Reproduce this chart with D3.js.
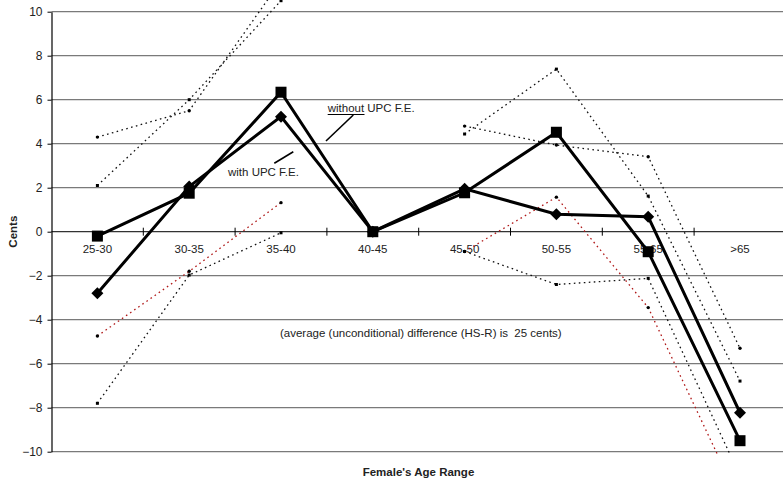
<!DOCTYPE html>
<html>
<head>
<meta charset="utf-8">
<script src="https://cdn.jsdelivr.net/npm/d3@7"></script>
<style>
  html, body { margin: 0; padding: 0; background: #fff; }
  svg { display: block; font-family: "Liberation Sans", Arial, sans-serif; }
</style>
</head>
<body>
<svg id="chart" width="783" height="478"></svg>
<script>
// Age ranges on the category axis
const categories = ["25-30", "30-35", "35-40", "40-45", "45-50", "50-55", "55-65", ">65"];

// Point estimates (cents); 40-45 is the omitted group
const withUpcFE    = [-2.8, 2.05, 5.23, 0, 1.95, 0.79, 0.68, -8.23];
const withoutUpcFE = [-0.2, 1.75, 6.34, 0, 1.77, 4.52, -0.91, -9.5];

// Confidence bounds (dotted); no bound for the omitted group
const boundUpperA = [4.3, 5.5, 11.4, null, 4.8, 3.94, 3.41, -5.3];
const boundUpperB = [2.1, 6.0, 10.5, null, 4.44, 7.39, 1.62, -6.79];
const boundLowerRed = [-4.74, -1.8, 1.32, null, -0.9, 1.57, -3.45, -12.3];
const boundLowerD = [-7.8, -1.97, -0.05, null, -0.9, -2.4, -2.12, -11.1];

const yTicks = [-10, -8, -6, -4, -2, 0, 2, 4, 6, 8, 10];

const svg = d3.select("#chart");
const W = 783, H = 478;
const left = 51.5, band = 91.8;

const x = d3.scaleBand().domain(categories).range([left, left + band * categories.length]).padding(0);
const cx = c => x(c) + x.bandwidth() / 2;
const y = d3.scaleLinear().domain([-10, 10]).range([451.7, 11.7]);

// Horizontal gridlines
svg.append("g").selectAll("line").data(yTicks).join("line")
  .attr("x1", left).attr("x2", W)
  .attr("y1", d => y(d)).attr("y2", d => y(d))
  .attr("stroke", d => d === 0 ? "#333" : "#7a7a7a")
  .attr("stroke-width", 1.2);

// Value axis
const yAxis = svg.append("g")
  .attr("transform", `translate(${left},0)`)
  .call(d3.axisLeft(y).tickValues(yTicks).tickSize(4).tickSizeOuter(0).tickPadding(5));
yAxis.select(".domain").attr("stroke", "#000").attr("stroke-width", 1.2);
yAxis.selectAll(".tick line").attr("stroke", "#000");
yAxis.selectAll("text").attr("font-size", 12).attr("fill", "#222")
  .attr("font-family", "Liberation Sans, Arial, sans-serif");

// Category axis crossing at zero: tick marks at band boundaries
const boundaries = d3.range(1, categories.length + 1).map(i => left + i * band);
svg.append("g").selectAll("line").data(boundaries).join("line")
  .attr("x1", d => d).attr("x2", d => d)
  .attr("y1", y(0) - 4).attr("y2", y(0) + 4)
  .attr("stroke", "#000").attr("stroke-width", 1);

svg.append("g").selectAll("text").data(categories).join("text")
  .attr("x", d => cx(d)).attr("y", y(0) + 21.5)
  .attr("text-anchor", "middle")
  .attr("font-size", 11.5).attr("fill", "#222")
  .text(d => d);

// Clip region for series
svg.append("clipPath").attr("id", "plotClip")
  .append("rect").attr("x", left).attr("y", 0)
  .attr("width", W - left).attr("height", y(-10) + 3);

const plot = svg.append("g").attr("clip-path", "url(#plotClip)");

const line = d3.line()
  .defined(d => d.v !== null)
  .x(d => cx(d.c))
  .y(d => y(d.v));

const toPts = arr => arr.map((v, i) => ({ c: categories[i], v }));

// Dotted confidence bounds
const bounds = [
  { data: boundUpperA, color: "#111", marker: "circle" },
  { data: boundUpperB, color: "#111", marker: "square" },
  { data: boundLowerD, color: "#111", marker: "square" },
  { data: boundLowerRed, color: "#b01818", marker: "circle" }
];

bounds.forEach(b => {
  const pts = toPts(b.data);
  plot.append("path")
    .attr("d", line(pts))
    .attr("fill", "none")
    .attr("stroke", b.color)
    .attr("stroke-width", 1.3)
    .attr("stroke-dasharray", "1.6,3.4");
  const g = plot.append("g");
  const shown = pts.filter(p => p.v !== null);
  if (b.marker === "circle") {
    g.selectAll("circle").data(shown).join("circle")
      .attr("cx", d => cx(d.c)).attr("cy", d => y(d.v)).attr("r", 1.7)
      .attr("fill", "#000");
  } else {
    g.selectAll("rect").data(shown).join("rect")
      .attr("x", d => cx(d.c) - 1.5).attr("y", d => y(d.v) - 1.5)
      .attr("width", 3).attr("height", 3)
      .attr("fill", "#000");
  }
});

// Point-estimate series
const solid = [
  { data: withoutUpcFE, marker: "square" },
  { data: withUpcFE, marker: "diamond" }
];

solid.forEach(s => {
  plot.append("path")
    .attr("d", line(toPts(s.data)))
    .attr("fill", "none")
    .attr("stroke", "#000")
    .attr("stroke-width", 3)
    .attr("stroke-linejoin", "miter");
});

solid.forEach(s => {
  const pts = toPts(s.data);
  const g = plot.append("g");
  if (s.marker === "square") {
    g.selectAll("rect").data(pts).join("rect")
      .attr("x", d => cx(d.c) - 5.5).attr("y", d => y(d.v) - 5.5)
      .attr("width", 11).attr("height", 11)
      .attr("fill", "#000");
  } else {
    g.selectAll("path").data(pts).join("path")
      .attr("d", d => {
        const px = cx(d.c), py = y(d.v), r = 6;
        return `M${px},${py - r}L${px + r},${py}L${px},${py + r}L${px - r},${py}Z`;
      })
      .attr("fill", "#000");
  }
});

// Series annotations with leader lines
svg.append("text")
  .attr("x", 327.7).attr("y", 112)
  .attr("font-size", 11.5).attr("fill", "#222")
  .text("without UPC F.E.");
svg.append("line")
  .attr("x1", 327.7).attr("x2", 364.5).attr("y1", 114.5).attr("y2", 114.5)
  .attr("stroke", "#000").attr("stroke-width", 1);
svg.append("line")
  .attr("x1", 353.3).attr("y1", 115).attr("x2", 326).attr("y2", 141)
  .attr("stroke", "#000").attr("stroke-width", 1.6);

svg.append("text")
  .attr("x", 228).attr("y", 175.8)
  .attr("font-size", 11.5).attr("fill", "#222")
  .text("with UPC F.E.");
svg.append("line")
  .attr("x1", 274.3).attr("y1", 163.3).attr("x2", 293.3).attr("y2", 151.7)
  .attr("stroke", "#000").attr("stroke-width", 1.6);

svg.append("text")
  .attr("x", 280).attr("y", 337)
  .attr("font-size", 11.5).attr("fill", "#222")
  .attr("xml:space", "preserve")
  .text("(average (unconditional) difference (HS-R) is  25 cents)");

// Axis titles
svg.append("text")
  .attr("transform", `translate(17,${y(0)}) rotate(-90)`)
  .attr("text-anchor", "middle")
  .attr("font-size", 11.5).attr("font-weight", "bold").attr("fill", "#222")
  .text("Cents");

svg.append("text")
  .attr("x", 418.5).attr("y", 475.5)
  .attr("text-anchor", "middle")
  .attr("font-size", 11.5).attr("font-weight", "bold").attr("fill", "#222")
  .text("Female's Age Range");
</script>
</body>
</html>
